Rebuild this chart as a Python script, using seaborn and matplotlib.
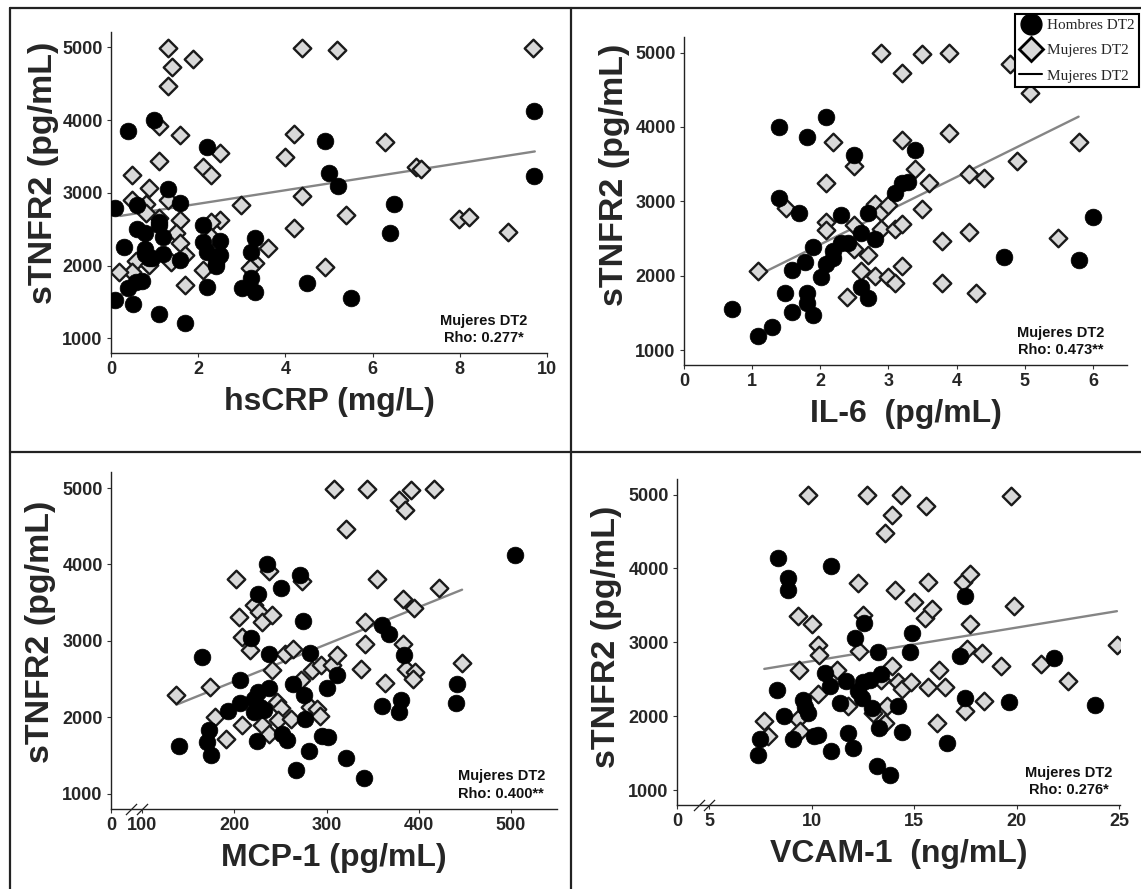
import matplotlib
matplotlib.use("Agg")
import matplotlib.pyplot as plt
import matplotlib.font_manager as fm
from matplotlib.lines import Line2D
from matplotlib.transforms import blended_transform_factory
import seaborn as sns

sns.set_theme(style="ticks")
plt.rcParams["font.family"] = ["Liberation Sans", "DejaVu Sans"]

# ---------------------------------------------------------
# Data
# ---------------------------------------------------------
# hsCRP panel
crp_men_x = [0.1, 0.1, 0.4, 0.3, 0.4, 0.5, 0.6, 0.6, 0.77, 0.57, 0.7, 0.79, 0.79, 0.88,
             0.98, 0.94, 1.1, 1.1, 1.19, 1.19, 1.1, 1.3, 1.59, 1.59, 1.7, 2.2, 2.1, 2.1,
             2.2, 2.2, 2.49, 2.49, 2.41, 2.4, 3.0, 3.2, 3.3, 3.2, 3.3, 4.5, 4.9, 5.0,
             5.2, 5.5, 6.5, 6.4, 9.7, 9.7]
crp_men_y = [2790, 1530, 3850, 2250, 1690, 1480, 2830, 2500, 2445, 1780, 1790, 2230, 2155, 2100,
             4000, 2100, 2605, 2560, 2400, 2155, 1330, 3055, 2858, 2078, 1215, 3624, 2560, 2330,
             2193, 1711, 2340, 2147, 2032, 2000, 1688, 2193, 2385, 1835, 1633, 1757, 3706, 3270,
             3100, 1560, 2850, 2445, 4128, 3234]
crp_women_x = [1.3, 1.39, 1.3, 1.89, 4.39, 5.19, 9.69, 1.1, 1.59, 1.1, 0.48, 0.88, 0.48, 0.8,
               0.8, 1.3, 1.1, 1.59, 1.49, 1.59, 1.7, 1.38, 0.57, 0.88, 0.48, 0.19, 1.7, 2.1,
               2.3, 2.49, 2.49, 2.3, 2.3, 2.1, 2.99, 3.6, 3.3, 3.18, 3.98, 4.19, 4.39, 4.19,
               4.9, 5.4, 6.28, 7.0, 7.1, 7.99, 8.2, 9.1]
crp_women_y = [4990, 4725, 4472, 4840, 4990, 4968, 4990, 3913, 3798, 3440, 3248, 3064, 2904, 2850,
               2720, 2904, 2650, 2628, 2445, 2307, 2147, 2055, 2069, 2010, 1917, 1917, 1734, 3362,
               3248, 3546, 2628, 2605, 2400, 1940, 2835, 2248, 2032, 1972, 3486, 3812, 2959, 2514,
               1986, 2697, 3693, 3349, 3330, 2638, 2674, 2459]
crp_fit_x = [0.21, 9.72]
crp_fit_y = [2683, 3569]

# IL-6 panel
il6_men_x = [0.7, 1.09, 1.29, 1.39, 1.39, 1.69, 1.8, 2.09, 2.5, 1.59, 1.48, 1.59, 1.8, 1.8,
             1.78, 1.9, 1.9, 2.01, 2.08, 2.19, 2.3, 2.4, 2.3, 2.19, 2.59, 2.59, 2.7, 2.7,
             2.8, 3.1, 3.2, 3.29, 3.39, 4.7, 5.8, 6.0]
il6_men_y = [1547, 1193, 1314, 4004, 3040, 2848, 3861, 4130, 3623, 2076, 1762, 1516, 1628, 1762,
             2188, 2381, 1471, 1987, 2157, 2336, 2435, 2435, 2816, 2233, 2570, 1843, 1695, 2848,
             2489, 3108, 3242, 3265, 3691, 2247, 2211, 2785]
il6_women_x = [1.09, 1.49, 2.09, 2.09, 2.09, 2.19, 2.5, 2.5, 2.5, 2.39, 2.59, 2.7, 2.8, 2.8,
               2.89, 2.89, 2.89, 2.99, 2.99, 3.09, 3.09, 3.2, 3.2, 3.2, 3.2, 3.39, 3.49, 3.49,
               3.6, 3.78, 3.78, 3.89, 3.89, 4.18, 4.4, 4.18, 4.29, 4.79, 4.89, 5.08, 5.49, 5.79]
il6_women_y = [2067, 2906, 3251, 2726, 2614, 3803, 3475, 2682, 2354, 1717, 2067, 2278, 2964, 1996,
               5000, 2861, 2623, 2951, 1978, 2623, 1897, 4731, 3825, 2695, 2130, 3430, 4982, 2892,
               3251, 2471, 1897, 5000, 3924, 3363, 3318, 2592, 1771, 4848, 3543, 4453, 2502, 3794]
il6_fit_x = [1.19, 5.79]
il6_fit_y = [2054, 4139]

# MCP-1 panel
mcp_men_x = [140, 165, 172, 170, 175, 193, 206, 206, 218, 225, 235, 250, 237, 237, 225, 221,
             228, 221, 232, 224, 252, 257, 271, 274, 263, 275, 277, 282, 281, 267, 295, 302,
             300, 311, 321, 341, 360, 368, 384, 360, 381, 378, 442, 440, 504]
mcp_men_y = [1625, 2789, 1830, 1677, 1511, 2078, 2484, 2191, 3042, 3618, 4001, 3692, 2833, 2383,
             2331, 2244, 2135, 2069, 2091, 1686, 1786, 1699, 3857, 3256, 2440, 2287, 1973, 2841,
             1555, 1315, 1755, 1742, 2383, 2558, 1468, 1206, 3212, 3094, 2811, 2148, 2222, 2069,
             2440, 2191, 4119]
mcp_women_x = [136, 173, 179, 191, 202, 205, 208, 217, 221, 227, 230, 241, 237, 208, 230, 238,
               241, 246, 250, 247, 255, 264, 261, 272, 273, 284, 282, 290, 294, 293, 306, 311,
               308, 321, 337, 342, 342, 344, 355, 363, 378, 385, 392, 417, 383, 395, 383, 386,
               396, 394, 422, 447]
mcp_women_y = [2296, 2396, 2004, 1720, 3805, 3312, 3051, 2876, 3474, 3378, 3247, 3334, 3910, 1904,
               1895, 1786, 2614, 2200, 2122, 1960, 2833, 2898, 1982, 2484, 3779, 2614, 2135, 2113,
               2689, 2017, 2680, 2820, 4983, 4468, 2628, 3247, 2963, 4983, 3805, 2449, 4839, 4708,
               4969, 4991, 3543, 3430, 2963, 2636, 2593, 2497, 3692, 2715]
mcp_fit_x = [137, 447]
mcp_fit_y = [2165, 3670]

# VCAM-1 panel
vcam_men_x = [7.4, 7.48, 8.3, 8.38, 8.86, 8.86, 8.67, 9.07, 9.59, 9.68, 9.81, 10.11, 10.32, 10.97,
              10.97, 10.65, 10.89, 11.38, 11.7, 11.79, 12.03, 12.11, 12.24, 12.44, 12.56, 12.52,
              12.84, 12.95, 13.17, 13.25, 13.3, 13.41, 13.81, 14.22, 14.42, 14.79, 14.9, 16.62,
              17.22, 17.5, 17.5, 19.63, 21.82, 23.85]
vcam_men_y = [1483, 1694, 2353, 4143, 3873, 3715, 2001, 1694, 2227, 2127, 2046, 1740, 1753, 4030,
              1528, 2587, 2407, 2182, 2475, 1776, 1573, 3061, 2339, 2249, 3264, 2461, 2488, 2114,
              1334, 2867, 1843, 2578, 1212, 2136, 1785, 2867, 3120, 1640, 2822, 3634, 2249, 2190,
              2790, 2159]
vcam_women_x = [7.69, 7.89, 9.32, 9.32, 9.38, 9.43, 10.0, 10.29, 10.36, 10.29, 9.81, 11.22, 11.79,
                12.27, 12.31, 12.52, 12.68, 13.0, 13.41, 13.57, 13.6, 13.7, 13.9, 13.9, 14.09,
                14.22, 14.38, 14.42, 14.87, 15.0, 15.52, 15.6, 15.68, 15.89, 15.68, 16.14, 16.2,
                16.53, 17.39, 17.71, 17.71, 17.6, 17.5, 18.31, 18.41, 19.22, 19.74, 19.87, 21.2,
                22.5, 24.9]
vcam_women_y = [1934, 1731, 3354, 1965, 2632, 1798, 3255, 2971, 2835, 2308, 5000, 2632, 2136,
                3805, 2880, 3377, 5000, 2046, 2488, 4481, 1911, 2136, 4729, 2687, 3706, 2461,
                5000, 2371, 2461, 3548, 3331, 4851, 3814, 3453, 2398, 1911, 2632, 2398, 3814,
                3931, 3255, 2912, 2069, 2858, 2204, 2678, 4986, 3498, 2714, 2475, 2971]
vcam_fit_x = [7.69, 24.9]
vcam_fit_y = [2641, 3422]

# axis setup per panel
x_labels = ["hsCRP (mg/L)", "IL-6  (pg/mL)", "MCP-1 (pg/mL)", "VCAM-1  (ng/mL)"]
rho_labels = ["Rho: 0.277*", "Rho: 0.473**", "Rho: 0.400**", "Rho: 0.276*"]
y_ticks = [1000, 2000, 3000, 4000, 5000]

W, H = 1141, 889

# font for the small rho notes
names = {f.name for f in fm.fontManager.ttflist}
note_font = "Liberation Sans Narrow" if "Liberation Sans Narrow" in names else "Liberation Sans"


def px_box(left, right, top, bottom):
    return [left / W, 1 - bottom / H, (right - left) / W, (bottom - top) / H]


def draw_panel(ax, mx, my, wx, wy, fx, fy, xlabel, rho, xlim, xticks, xticklabels,
               ylab_pos, note_x, breaks=None):
    sns.lineplot(x=fx, y=fy, ax=ax, color="#858585", linewidth=1.7, zorder=1)
    sns.scatterplot(x=wx, y=wy, ax=ax, marker="D", s=80, color="#d9d9d9",
                    edgecolor="#1a1a1a", linewidth=1.7, zorder=2)
    sns.scatterplot(x=mx, y=my, ax=ax, marker="o", s=145, color="black",
                    edgecolor="black", linewidth=0.5, zorder=3)

    ax.set_xlim(*xlim)
    ax.set_ylim(800, 5210)
    ax.set_xticks(xticks)
    ax.set_xticklabels(xticklabels)
    ax.set_yticks(y_ticks)
    ax.set_yticklabels([str(t) for t in y_ticks])
    for lab in ax.get_xticklabels() + ax.get_yticklabels():
        lab.set_fontweight("bold")
        lab.set_fontsize(13)
    ax.tick_params(length=3, width=0.8, color="#333333", pad=3)

    ax.set_xlabel(xlabel, fontsize=23, fontweight="bold", labelpad=6)
    ax.set_ylabel("sTNFR2 (pg/mL)", fontsize=24.5, fontweight="bold")
    ax.yaxis.label.set_va("center")
    ax.yaxis.set_label_coords(*ylab_pos)

    for side in ["top", "right"]:
        ax.spines[side].set_visible(False)
    for side in ["left", "bottom"]:
        ax.spines[side].set_linewidth(1.0)
        ax.spines[side].set_color("#222222")

    ax.text(note_x, 0.025, "Mujeres DT2\n" + rho, transform=ax.transAxes,
            ha="center", va="bottom", fontsize=10.5, fontweight="bold",
            family=note_font, linespacing=1.3, color="#111111")

    if breaks is not None:
        trans = blended_transform_factory(ax.transData, ax.transAxes)
        ax.plot(breaks, [0, 0], transform=trans, linestyle="none",
                marker=[(-1, -1), (1, 1)], markersize=8, markeredgewidth=0.9,
                color="#222222", clip_on=False)


# ---------------------------------------------------------
# Figure
# ---------------------------------------------------------
fig = plt.figure(figsize=(W / 100, H / 100), dpi=100)

ax1 = fig.add_axes(px_box(111, 547, 32, 353))
ax2 = fig.add_axes(px_box(684, 1127, 37, 365))
ax3 = fig.add_axes(px_box(111, 557, 472, 809))
ax4 = fig.add_axes(px_box(677, 1120, 479, 805))

draw_panel(ax1, crp_men_x, crp_men_y, crp_women_x, crp_women_y, crp_fit_x, crp_fit_y,
           x_labels[0], rho_labels[0], (0, 10), [0, 2, 4, 6, 8, 10],
           ["0", "2", "4", "6", "8", "10"], (-0.154, 0.56), 0.855)
draw_panel(ax2, il6_men_x, il6_men_y, il6_women_x, il6_women_y, il6_fit_x, il6_fit_y,
           x_labels[1], rho_labels[1], (0, 6.5), [0, 1, 2, 3, 4, 5, 6],
           ["0", "1", "2", "3", "4", "5", "6"], (-0.156, 0.58), 0.85)
draw_panel(ax3, mcp_men_x, mcp_men_y, mcp_women_x, mcp_women_y, mcp_fit_x, mcp_fit_y,
           x_labels[2], rho_labels[2], (66, 550), [66, 100, 200, 300, 400, 500],
           ["0", "100", "200", "300", "400", "500"], (-0.159, 0.525), 0.875,
           breaks=[88, 100])
draw_panel(ax4, vcam_men_x, vcam_men_y, vcam_women_x, vcam_women_y, vcam_fit_x, vcam_fit_y,
           x_labels[3], rho_labels[3], (3.43, 25.05), [3.43, 5, 10, 15, 20, 25],
           ["0", "5", "10", "15", "20", "25"], (-0.16, 0.515), 0.885,
           breaks=[4.5, 5.0])

# panel frame lines
frame_kw = dict(color="#222222", linewidth=1.6, transform=fig.transFigure)
fig.add_artist(Line2D([10 / W, 1], [1 - 8 / H, 1 - 8 / H], **frame_kw))
fig.add_artist(Line2D([10 / W, 10 / W], [0, 1 - 8 / H], **frame_kw))
fig.add_artist(Line2D([571 / W, 571 / W], [0, 1 - 8 / H], **frame_kw))
fig.add_artist(Line2D([10 / W, 1], [1 - 452 / H, 1 - 452 / H], **frame_kw))

# legend
handles = [
    Line2D([], [], marker="o", linestyle="none", markersize=15, color="black"),
    Line2D([], [], marker="D", linestyle="none", markersize=12, markerfacecolor="#d9d9d9",
           markeredgecolor="black", markeredgewidth=2),
    Line2D([], [], color="black", linewidth=1.5),
]
leg = fig.legend(handles, ["Hombres DT2", "Mujeres DT2", "Mujeres DT2"],
                 loc="upper right", bbox_to_anchor=(1139 / W, 1 - 14 / H),
                 bbox_transform=fig.transFigure, borderaxespad=0, fancybox=False,
                 framealpha=1, edgecolor="black", handlelength=1.5, handletextpad=0.3,
                 borderpad=0.3, labelspacing=0.75,
                 prop={"family": ["Liberation Serif", "DejaVu Serif"], "size": 11})
leg.get_frame().set_linewidth(1.5)

fig.savefig("out.png", dpi=100)
